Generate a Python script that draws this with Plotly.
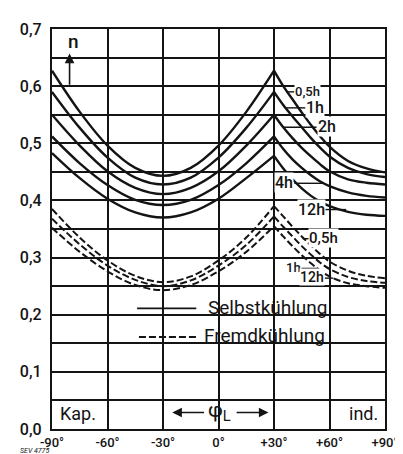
import plotly.graph_objects as go

# ---- data ----
phi_left = [-90, -75, -60, -45, -30, -15, 0, 15, 30]
phi_right = [30, 35, 40, 45, 50, 55, 60, 70, 80, 90]

selbst_05h_left = [0.627, 0.555, 0.496, 0.457, 0.443, 0.457, 0.496, 0.555, 0.627]
selbst_1h_left = [0.590, 0.527, 0.475, 0.440, 0.428, 0.440, 0.475, 0.527, 0.590]
selbst_2h_left = [0.550, 0.496, 0.451, 0.422, 0.411, 0.422, 0.451, 0.496, 0.550]
selbst_4h_left = [0.512, 0.465, 0.427, 0.401, 0.392, 0.401, 0.427, 0.465, 0.512]
selbst_12h_left = [0.483, 0.439, 0.403, 0.379, 0.370, 0.379, 0.403, 0.439, 0.478]

selbst_05h_right = [0.627, 0.600, 0.577, 0.554, 0.532, 0.512, 0.494, 0.469, 0.456, 0.449]
selbst_1h_right = [0.590, 0.567, 0.547, 0.528, 0.509, 0.492, 0.477, 0.457, 0.446, 0.441]
selbst_2h_right = [0.550, 0.528, 0.509, 0.492, 0.477, 0.463, 0.451, 0.437, 0.431, 0.428]
selbst_4h_right = [0.512, 0.490, 0.472, 0.457, 0.444, 0.433, 0.425, 0.414, 0.408, 0.405]
selbst_12h_right = [0.478, 0.456, 0.437, 0.421, 0.408, 0.398, 0.390, 0.380, 0.375, 0.373]

fremd_05h_left = [0.385, 0.335, 0.295, 0.268, 0.257, 0.267, 0.295, 0.335, 0.390]
fremd_1h_left = [0.368, 0.323, 0.286, 0.261, 0.250, 0.260, 0.286, 0.322, 0.372]
fremd_12h_left = [0.352, 0.310, 0.276, 0.252, 0.243, 0.252, 0.276, 0.310, 0.355]

fremd_05h_right = [0.390, 0.372, 0.354, 0.337, 0.321, 0.306, 0.293, 0.277, 0.268, 0.264]
fremd_1h_right = [0.372, 0.354, 0.337, 0.320, 0.305, 0.291, 0.280, 0.266, 0.259, 0.256]
fremd_12h_right = [0.355, 0.337, 0.320, 0.304, 0.290, 0.277, 0.267, 0.255, 0.250, 0.247]

x_tickvals = [-90, -60, -30, 0, 30, 60, 90]
x_ticktext = ["-90°", "-60°", "-30°", "0°", "+30°", "+60°", "+90°"]
y_tickvals = [0.0, 0.1, 0.2, 0.3, 0.4, 0.5, 0.6, 0.7]
y_ticktext = ["0,0", "0,1", "0,2", "0,3", "0,4", "0,5", "0,6", "0,7"]

FONT = "Roboto, Liberation Sans, sans-serif"
INK = "#141414"

fig = go.Figure()

solid = [
    (selbst_05h_left, selbst_05h_right),
    (selbst_1h_left, selbst_1h_right),
    (selbst_2h_left, selbst_2h_right),
    (selbst_4h_left, selbst_4h_right),
    (selbst_12h_left, selbst_12h_right),
]
dashed = [
    (fremd_05h_left, fremd_05h_right),
    (fremd_1h_left, fremd_1h_right),
    (fremd_12h_left, fremd_12h_right),
]

for left, right in solid:
    for xs, ys in ((phi_left, left), (phi_right, right)):
        fig.add_trace(go.Scatter(x=xs, y=ys, mode="lines", line_shape="spline",
                                 line=dict(color=INK, width=2.4), showlegend=False,
                                 hoverinfo="skip"))
for left, right in dashed:
    for xs, ys in ((phi_left, left), (phi_right, right)):
        fig.add_trace(go.Scatter(x=xs, y=ys, mode="lines", line_shape="spline",
                                 line=dict(color=INK, width=2.0, dash="7px,3px"),
                                 showlegend=False, hoverinfo="skip"))

shapes = []
annotations = []


def label(text, x, y, lx0, lx1, ly, size=13, xanchor="center"):
    annotations.append(dict(x=x, y=y, xref="x", yref="y", text=text, showarrow=False,
                            font=dict(family=FONT, size=size, color=INK, weight=500),
                            xanchor=xanchor, yanchor="middle", bgcolor="white",
                            borderpad=0))
    shapes.append(dict(type="line", xref="x", yref="y", x0=lx0, x1=lx1, y0=ly, y1=ly,
                       line=dict(color=INK, width=1.4)))


# curve labels (solid)
label("0,5h", 48.0, 0.591, 36.5, 41.0, 0.590, size=13)
label("1h", 52.0, 0.563, 36.5, 47.0, 0.562, size=16)
label("2h", 58.5, 0.530, 35.0, 53.0, 0.528, size=16)
label("4h", 35.5, 0.432, 41.0, 57.0, 0.430, size=16)
label("12h", 50.0, 0.385, 56.5, 69.0, 0.384, size=16)
# curve labels (dashed)
label("0,5h", 56.5, 0.335, 45.5, 49.0, 0.333, size=15)
label("1h", 40.5, 0.283, 44.5, 54.0, 0.281, size=13)
label("12h", 50.5, 0.266, 57.5, 62.0, 0.264, size=14)

# legend drawn inside the plot
shapes.append(dict(type="line", xref="x", yref="y", x0=-44, x1=-12, y0=0.211, y1=0.211,
                   line=dict(color=INK, width=1.8)))
shapes.append(dict(type="line", xref="x", yref="y", x0=-43, x1=-12, y0=0.161, y1=0.161,
                   line=dict(color=INK, width=1.8, dash="7px,3px")))
annotations.append(dict(x=-7, y=0.213, xref="x", yref="y", text="Selbstkühlung",
                        showarrow=False, xanchor="left", yanchor="middle",
                        font=dict(family=FONT, size=19, color=INK)))
annotations.append(dict(x=-9, y=0.163, xref="x", yref="y", text="Fremdkühlung",
                        showarrow=False, xanchor="left", yanchor="middle",
                        font=dict(family=FONT, size=19, color=INK)))

# bottom texts
annotations.append(dict(x=-86.5, y=0.028, xref="x", yref="y", text="Kap.", showarrow=False,
                        xanchor="left", yanchor="middle",
                        font=dict(family=FONT, size=18, color=INK)))
annotations.append(dict(x=87.5, y=0.028, xref="x", yref="y", text="ind.", showarrow=False,
                        xanchor="right", yanchor="middle",
                        font=dict(family=FONT, size=18, color=INK)))
annotations.append(dict(x=0.5, y=0.031, xref="x", yref="y", text="φ<sub>L</sub>",
                        showarrow=False, xanchor="center", yanchor="middle",
                        font=dict(family=FONT, size=21, color=INK)))
annotations.append(dict(x=-25, y=0.029, ax=-7, ay=0.029, xref="x", yref="y",
                        axref="x", ayref="y", text="", showarrow=True, arrowhead=2,
                        arrowsize=1.2, arrowwidth=1.6, arrowcolor=INK))
annotations.append(dict(x=27, y=0.029, ax=9, ay=0.029, xref="x", yref="y",
                        axref="x", ayref="y", text="", showarrow=True, arrowhead=2,
                        arrowsize=1.2, arrowwidth=1.6, arrowcolor=INK))
# n with arrow
annotations.append(dict(x=-78.5, y=0.679, xref="x", yref="y", text="n", showarrow=False,
                        xanchor="center", yanchor="middle",
                        font=dict(family=FONT, size=19, color=INK, weight=500)))
annotations.append(dict(x=-80.5, y=0.657, ax=-80.5, ay=0.600, xref="x", yref="y",
                        axref="x", ayref="y", text="", showarrow=True, arrowhead=2,
                        arrowsize=1.2, arrowwidth=1.6, arrowcolor=INK))
# figure code (below the -90° label)
annotations.append(dict(x=-0.098, y=-0.0668, xref="paper", yref="paper",
                        text="<i>SEV 4775</i>", showarrow=False, borderpad=0,
                        xanchor="left", yanchor="bottom",
                        font=dict(family=FONT, size=7, color=INK)))

fig.update_layout(
    width=403, height=454,
    margin=dict(l=40, r=17, t=16, b=30),
    paper_bgcolor="white", plot_bgcolor="white",
    shapes=shapes, annotations=annotations,
    showlegend=False,
    font=dict(family=FONT, size=15, color=INK),
)
fig.update_xaxes(range=[-90, 90], tickvals=x_tickvals, ticktext=x_ticktext,
                 showgrid=True, gridcolor=INK, gridwidth=1.5,
                 showline=True, linecolor=INK, linewidth=2.4, mirror=True,
                 zeroline=False, ticks="", ticklabelstandoff=0,
                 tickfont=dict(family=FONT, size=13, color=INK, weight=500))
fig.update_yaxes(range=[0, 0.7], tickvals=y_tickvals, ticktext=y_ticktext,
                 showgrid=True, gridcolor=INK, gridwidth=1.5,
                 minor=dict(dtick=0.05, tick0=0, showgrid=True, gridcolor=INK, gridwidth=1.5),
                 showline=True, linecolor=INK, linewidth=2.4, mirror=True,
                 zeroline=False, ticks="", ticklabelstandoff=5,
                 tickfont=dict(family=FONT, size=16, color=INK, weight=500))

fig.write_html("out.html")
